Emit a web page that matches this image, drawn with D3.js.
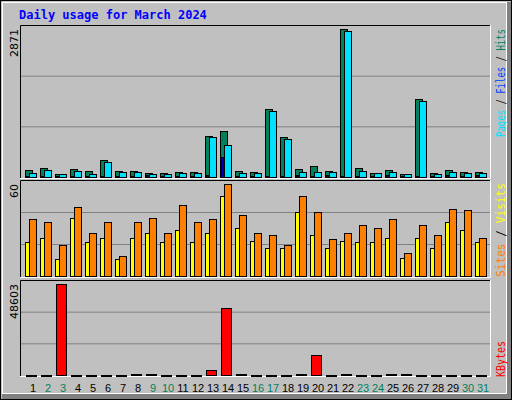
<!DOCTYPE html><html><head><meta charset="utf-8">
<script src="https://cdn.jsdelivr.net/npm/d3@7"></script>
<style>body{margin:0;background:#fff}svg{display:block}</style></head><body>
<script>
const days = d3.range(1,32);
const weekend = [2,3,9,10,16,17,23,24,30,31];
const hits  = [130,169,58,150,110,324,110,110,72,72,91,91,790,887,110,91,1320,770,150,208,110,2871,169,72,130,58,1507,72,130,91,91];
const files = [72,130,52,110,58,285,91,91,52,52,72,72,770,615,72,72,1275,731,91,91,91,2827,110,72,91,52,1468,52,91,72,72];
const pages = [20,25,10,20,15,20,15,15,30,15,15,15,40,382,20,15,15,15,30,20,30,15,25,15,30,10,15,10,30,15,30];
const visits= [37,35,20,45,28,35,13,35,38,28,46,35,37,60,40,28,27,20,52,42,24,28,33,31,37,15,33,27,44,43,25];
const sites = [22,25,11,38,22,25,11,25,28,22,30,22,28,52,31,23,18,18,42,27,18,23,22,22,25,12,25,18,35,30,22];
const kbytes= [50,50,48603,50,50,50,50,800,800,50,50,50,2670,35786,800,50,50,50,800,10680,50,800,50,50,800,800,50,50,50,50,50];

const W=512,H=400;
const svg=d3.select("body").append("svg").attr("width",W).attr("height",H);
svg.append("rect").attr("width",W).attr("height",H).attr("fill","#c0c0c0");
svg.append("rect").attr("x",0.5).attr("y",0.5).attr("width",W-1).attr("height",H-1).attr("fill","none").attr("stroke","#000");
svg.append("path").attr("d",`M2.5,${H-3}V2.5H${W-3}`).attr("stroke","#fff").attr("fill","none");
svg.append("path").attr("d",`M${W-5.5},3V${H-6.5}H3`).attr("stroke","#fff").attr("fill","none");
svg.append("rect").attr("x",W-5).attr("y",2).attr("width",4).attr("height",H-3).attr("fill","#808080");
svg.append("rect").attr("x",2).attr("y",H-6).attr("width",W-3).attr("height",5).attr("fill","#808080");

svg.append("text").attr("x",19).attr("y",19).text("Daily usage for March 2024")
  .attr("font-family","DejaVu Sans Mono").attr("font-weight","bold").attr("font-size",12).attr("fill","#0000ff");

const x=d3.scaleLinear().domain([1,31]).range([33,483]);
const L=20,R=490;
function panel(top,base,max,maxPx){
  const y=d3.scaleLinear().domain([0,max]).range([base,base-maxPx]);
  const g=svg.append("g");
  const h=base-top;
  [1,2].forEach(i=>g.append("line").attr("x1",L).attr("x2",R).attr("y1",base-h*i/3+0.5).attr("y2",base-h*i/3+0.5).attr("stroke","#808080"));
  g.append("path").attr("d",`M${L+0.5},${base+1}V${top+0.5}H${R}`).attr("stroke","#000").attr("fill","none");
  g.append("path").attr("d",`M${L},${base+1.5}H${R+0.5}V${top}`).attr("stroke","#fff").attr("fill","none");
  return y;
}
function bars(y,data,dx,w,color){
  svg.append("g").selectAll("rect").data(data).join("rect")
   .attr("x",(d,i)=>x(days[i])+dx+0.5).attr("y",d=>Math.round(y(d))+0.5)
   .attr("width",w).attr("height",d=>Math.max(1,y(0)-Math.round(y(d))))
   .attr("fill",color).attr("stroke","#000");
}
const y1=panel(25,177,2871,148);
bars(y1,hits,-8,7,"#00805c");
bars(y1,files,-4,7,"#00e0ff");
bars(y1,pages,-7,2,"#0000c0");
const y2=panel(180,276,60,92);
bars(y2,sites,-8,4,"#ffff00");
bars(y2,visits,-4,7,"#ff8000");
const y3=panel(280,375,48603,91);
bars(y3,kbytes,-7,10,"#ff0000");

function vlabel(xp,yp,txt,anchor){
  svg.append("text").attr("transform",`translate(${xp},${yp}) rotate(-90)`).attr("text-anchor",anchor)
   .attr("font-family","DejaVu Sans").attr("font-size",11).attr("fill","#000").text(txt);
}
vlabel(18,29,"2871","end");
vlabel(18,184,"60","end");
vlabel(18,284,"48603","end");

function legend(yp,len,parts){
  const t=svg.append("text").attr("transform",`translate(505,${yp}) rotate(-90)`).attr("text-anchor","start")
   .attr("font-family","DejaVu Sans Mono").attr("font-size",13)
   .attr("textLength",len).attr("lengthAdjust","spacingAndGlyphs");
  parts.forEach(([s,c])=>t.append("tspan").attr("fill",c).text(s));
}
legend(137,108,[["Pages","#00e0ff"],[" / ","#000"],["Files","#0040ff"],[" / ","#000"],["Hits","#00805c"]]);
legend(277,94,[["Sites","#ff8000"],[" / ","#000"],["Visits","#ffff00"]]);
legend(377,36,[["KBytes","#ff0000"]]);

svg.append("g").selectAll("text").data(days).join("text")
  .attr("x",d=>x(d)).attr("y",392).attr("text-anchor","middle")
  .attr("font-family","Liberation Sans").attr("font-size",11)
  .attr("fill",d=>weekend.includes(d)?"#00805c":"#000").text(d=>d);
</script></body></html>
